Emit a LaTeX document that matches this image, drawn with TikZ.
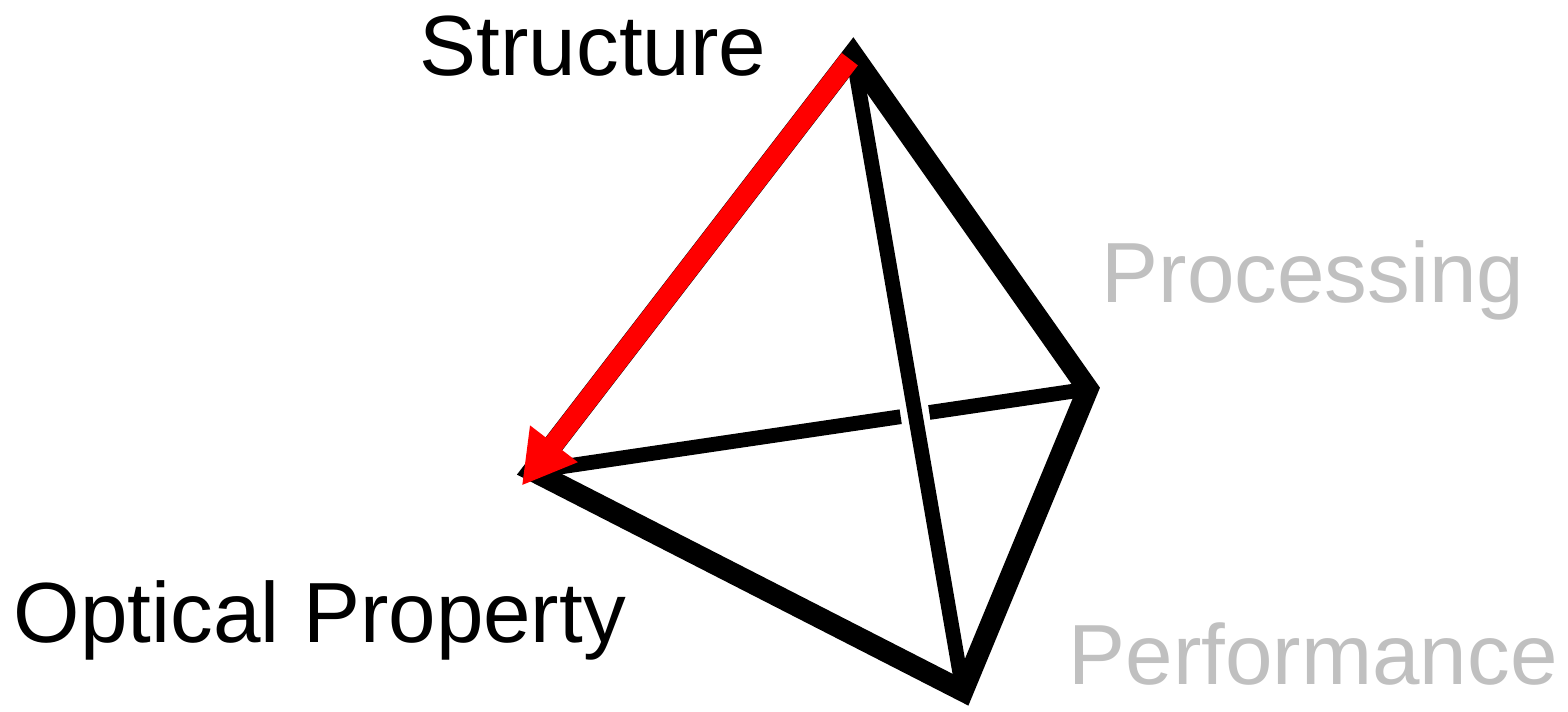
\documentclass[tikz,border=0pt]{standalone}
\usepackage{fontspec}
\setmainfont{Liberation Sans}
\usetikzlibrary{arrows.meta,calc}
\definecolor{labelgray}{RGB}{192,192,192}

\begin{document}
\begin{tikzpicture}[x=0.1mm,y=-0.1mm,font=\fontsize{24.3}{28}\selectfont,
  edge/.style={line width=6pt},thinedge/.style={line width=4.2pt},
  lbl/.style={anchor=base west,inner sep=0pt}]
 \useasboundingbox (0,0) rectangle (1568,711);
 \coordinate (str) at (853,55);\coordinate (proc) at (1088,389);
 \coordinate (opt) at (533,471);\coordinate (perf) at (963,691);
 \coordinate (gapa) at ($(opt)!.6625!(proc)$);\coordinate (gapb) at ($(opt)!.714!(proc)$);
 \coordinate (arrs) at ($(str)!.01!(opt)$);\coordinate (arre) at ($(str)!1.035!(opt)$);
 \draw[edge] (str)--(proc)--(perf)--(opt)--cycle;
 \draw[thinedge] (opt)--(gapa) (gapb)--(proc);
 \draw[thinedge] (str)--(perf);
 \draw[red,line width=5.8pt,-{Triangle[length=15pt,width=16pt]}] (arrs)--(arre);
 \node[lbl] (tstr) at (419,75) {Structure};
 \node[lbl,text=labelgray] (tproc) at (1101,302) {Processing};
 \node[lbl] (topt) at (13,642) {Optical Property};
 \node[lbl,text=labelgray] (tperf) at (1068,684) {Performance};
\end{tikzpicture}
\end{document}
